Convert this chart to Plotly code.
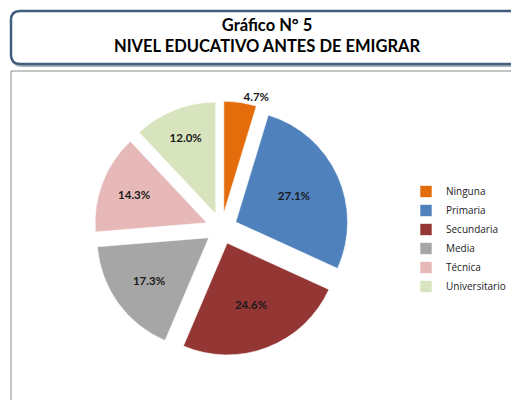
import plotly.graph_objects as go

# the page body adds an 8px margin, so the figure is sized to the visible window
OFF = 8
W, H = 519 - OFF, 400 - OFF

levels = ['Ninguna', 'Primaria', 'Secundaria', 'Media', 'Técnica', 'Universitario']
shares = [4.7, 27.1, 24.6, 17.3, 14.3, 12.0]
slice_colors = ['#E46C0A', '#4F81BD', '#943634', '#A6A6A6', '#E6B9B8', '#D7E4BD']

title_lines = ['Gráfico N° 5', 'NIVEL EDUCATIVO ANTES DE EMIGRAR']


def px_x(v):
    return (v - OFF) / W


def px_y(v):
    return 1 - (v - OFF) / H


def rounded_box(x0, y0, x1, y1, rad):
    # path in paper units, corners given in window pixels
    ax, ay = px_x(x0), px_y(y0)
    bx, by = px_x(x1), px_y(y1)
    rx, ry = rad / W, rad / H
    return (f'M {ax + rx},{ay} L {bx - rx},{ay} Q {bx},{ay} {bx},{ay - ry} '
            f'L {bx},{by + ry} Q {bx},{by} {bx - rx},{by} L {ax + rx},{by} '
            f'Q {ax},{by} {ax},{by + ry} L {ax},{ay - ry} Q {ax},{ay} {ax + rx},{ay} Z')


fig = go.Figure()

fig.add_trace(go.Pie(
    labels=levels, values=shares, sort=False, direction='clockwise', rotation=0,
    marker=dict(colors=slice_colors, line=dict(color='rgba(255,255,255,0.6)', width=1)),
    pull=[0.14] * len(levels),
    texttemplate='%{value:.1f}%',
    textposition=['outside', 'inside', 'inside', 'inside', 'inside', 'inside'],
    insidetextorientation='horizontal',
    textfont=dict(family='Lato', size=11.5, color='#1a1a1a', weight='bold'),
    outsidetextfont=dict(family='Lato', size=11.5, color='#1a1a1a', weight='bold'),
    domain=dict(x=[px_x(94), px_x(349)], y=[px_y(356), px_y(101)]),
    hoverinfo='label+percent',
))

# title frame and plot frame
fig.add_shape(type='path', xref='paper', yref='paper',
              path=rounded_box(13, 13, 540, 66, 9),
              line=dict(color='#a9b0b8', width=2), layer='below')
fig.add_shape(type='path', xref='paper', yref='paper',
              path=rounded_box(11, 11, 540, 64, 9),
              line=dict(color='#425D7D', width=2.5), fillcolor='white', layer='below')
fig.add_shape(type='rect', xref='paper', yref='paper',
              x0=px_x(11), x1=px_x(540), y0=px_y(420), y1=px_y(71),
              line=dict(color='#8c8c8c', width=1), layer='below')

fig.add_annotation(text='<br>'.join(title_lines), xref='paper', yref='paper',
                   x=px_x(267), y=px_y(36), xanchor='center', yanchor='middle',
                   showarrow=False, align='center',
                   font=dict(family='Lato', size=16.5, color='black', weight='bold'))

fig.update_layout(
    width=W, height=H, margin=dict(l=0, r=0, t=0, b=0),
    paper_bgcolor='white', plot_bgcolor='white',
    showlegend=True,
    legend=dict(x=px_x(406), y=px_y(239), xanchor='left', yanchor='middle',
                font=dict(family='Open Sans', size=10, color='#222'),
                itemwidth=30, bgcolor='rgba(0,0,0,0)'),
)

fig.write_html('out.html')
